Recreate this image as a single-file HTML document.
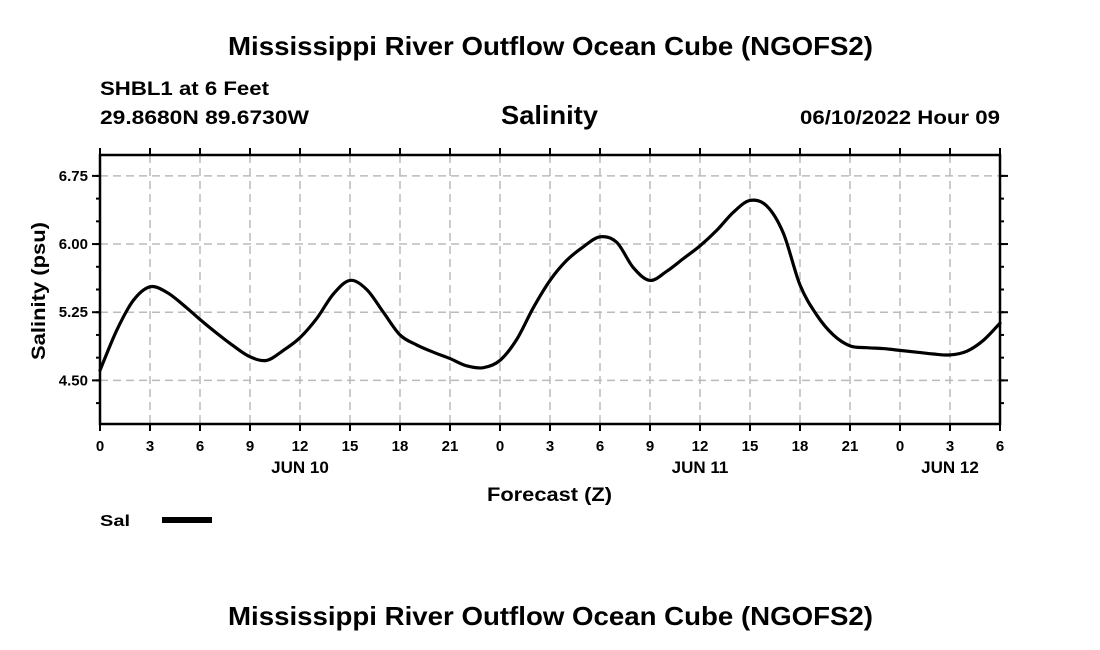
<!DOCTYPE html>
<html><head><meta charset="utf-8"><style>
body{margin:0;background:#fff;width:1100px;height:650px;overflow:hidden}
svg{display:block;font-family:"Liberation Sans",sans-serif;font-weight:bold}
</style></head><body>
<svg id="chart" width="1100" height="650">
<text x="228" y="55" font-size="26" textLength="645" lengthAdjust="spacingAndGlyphs">Mississippi River Outflow Ocean Cube (NGOFS2)</text>
<text x="100" y="95" font-size="19" textLength="169" lengthAdjust="spacingAndGlyphs">SHBL1 at 6 Feet</text>
<text x="100" y="124" font-size="19" textLength="209" lengthAdjust="spacingAndGlyphs">29.8680N  89.6730W</text>
<text x="501" y="124" font-size="26" textLength="97" lengthAdjust="spacingAndGlyphs">Salinity</text>
<text x="800" y="124" font-size="19" textLength="200" lengthAdjust="spacingAndGlyphs">06/10/2022 Hour 09</text>
<g id="grid"></g>
<g id="axes"></g>
<path id="line" fill="none" stroke="#000" stroke-width="3.2" stroke-linejoin="round" stroke-linecap="round"/>
<rect x="100" y="155" width="900" height="269" fill="none" stroke="#000" stroke-width="2.5"/>
<text transform="translate(45,360) rotate(-90)" font-size="19" textLength="138" lengthAdjust="spacingAndGlyphs">Salinity (psu)</text>
<text x="487" y="501" font-size="19" textLength="125" lengthAdjust="spacingAndGlyphs">Forecast (Z)</text>
<text x="100" y="526" font-size="16" textLength="30" lengthAdjust="spacingAndGlyphs">Sal</text>
<rect x="162" y="517" width="50" height="6" fill="#000"/>
<text x="228" y="625" font-size="26" textLength="645" lengthAdjust="spacingAndGlyphs">Mississippi River Outflow Ocean Cube (NGOFS2)</text>
</svg>
<script>
const hours=[0,1,2,3,4,5,6,7,8,9,10,11,12,13,14,15,16,17,18,19,20,21,22,23,24,25,26,27,28,29,30,31,32,33,34,35,36,37,38,39,40,41,42,43,44,45,46,47,48,49,50,51,52,53,54];
const salinity=[4.61,5.05,5.38,5.53,5.47,5.33,5.17,5.02,4.88,4.76,4.72,4.83,4.97,5.18,5.45,5.60,5.50,5.25,5.00,4.89,4.81,4.74,4.66,4.64,4.72,4.95,5.30,5.60,5.82,5.97,6.08,6.02,5.74,5.60,5.70,5.84,5.98,6.15,6.35,6.48,6.42,6.12,5.55,5.22,5.00,4.88,4.86,4.85,4.83,4.81,4.79,4.78,4.82,4.94,5.13];
const yTicks=[4.50,5.25,6.00,6.75];
const xTickLabels=["0","3","6","9","12","15","18","21","0","3","6","9","12","15","18","21","0","3","6"];
const dayLabels=["JUN 10","JUN 11","JUN 12"];
const dayHours=[12,36,51];
const X0=100,X1=1000,Y0=424,Y1=155,H=54,VMIN=4.02,VMAX=6.98;
const xs=h=>X0+(X1-X0)*h/H;
const ys=v=>Y0-(Y0-Y1)*(v-VMIN)/(VMAX-VMIN);
const NS="http://www.w3.org/2000/svg";
const grid=document.getElementById('grid'),axes=document.getElementById('axes');
function mk(tag,attrs,parent){const e=document.createElementNS(NS,tag);for(const k in attrs)e.setAttribute(k,attrs[k]);parent.appendChild(e);return e;}
xTickLabels.forEach((lab,i)=>{const x=xs(i*3);
 if(i>0&&i<xTickLabels.length-1){const g=mk('line',{x1:x,x2:x,y1:Y1,y2:Y0,stroke:'#bbb','stroke-width':1.5,'stroke-dasharray':'8,5'},grid);
 
 }
 const t1=mk('line',{x1:x,x2:x,y1:Y0,y2:Y0+7,stroke:'#000','stroke-width':2},axes);
 
 
 mk('line',{x1:x,x2:x,y1:Y1,y2:Y1-7,stroke:'#000','stroke-width':2},axes);
 const t=mk('text',{x:x,y:451,'font-size':15,'text-anchor':'middle'},axes);t.textContent=lab;
 
 });
dayLabels.forEach((d,i)=>{const t=mk('text',{x:xs(dayHours[i]),y:473,'font-size':17,'text-anchor':'middle'},axes);t.textContent=d;
 
 });
for(let v=4.25;v<=6.99;v+=0.25){const y=ys(v);mk('line',{x1:X0-4,x2:X0,y1:y,y2:y,stroke:'#000','stroke-width':2},axes);mk('line',{x1:X1,x2:X1+4,y1:y,y2:y,stroke:'#000','stroke-width':2},axes);}
yTicks.forEach(v=>{const y=ys(v);
 const g=mk('line',{x1:X0,x2:X1,y1:y,y2:y,stroke:'#bbb','stroke-width':1.5,'stroke-dasharray':'8,5'},grid);
 
 
 mk('line',{x1:X0-8,x2:X0,y1:y,y2:y,stroke:'#000','stroke-width':2},axes);
 mk('line',{x1:X1,x2:X1+8,y1:y,y2:y,stroke:'#000','stroke-width':2},axes);
 const t=mk('text',{x:88,y:y+5,'font-size':15,'text-anchor':'end'},axes);t.textContent=v.toFixed(2);
 
 });
const P=hours.map((h,i)=>[xs(h),ys(salinity[i])]);
let d='M'+P[0][0]+','+P[0][1];
for(let i=0;i<P.length-1;i++){const p0=P[Math.max(0,i-1)],p1=P[i],p2=P[i+1],p3=P[Math.min(P.length-1,i+2)];
 const c1=[p1[0]+(p2[0]-p0[0])/6,p1[1]+(p2[1]-p0[1])/6],c2=[p2[0]-(p3[0]-p1[0])/6,p2[1]-(p3[1]-p1[1])/6];
 d+=' C'+c1[0]+','+c1[1]+' '+c2[0]+','+c2[1]+' '+p2[0]+','+p2[1];}
document.getElementById('line').setAttribute('d',d);
</script>
</body></html>
